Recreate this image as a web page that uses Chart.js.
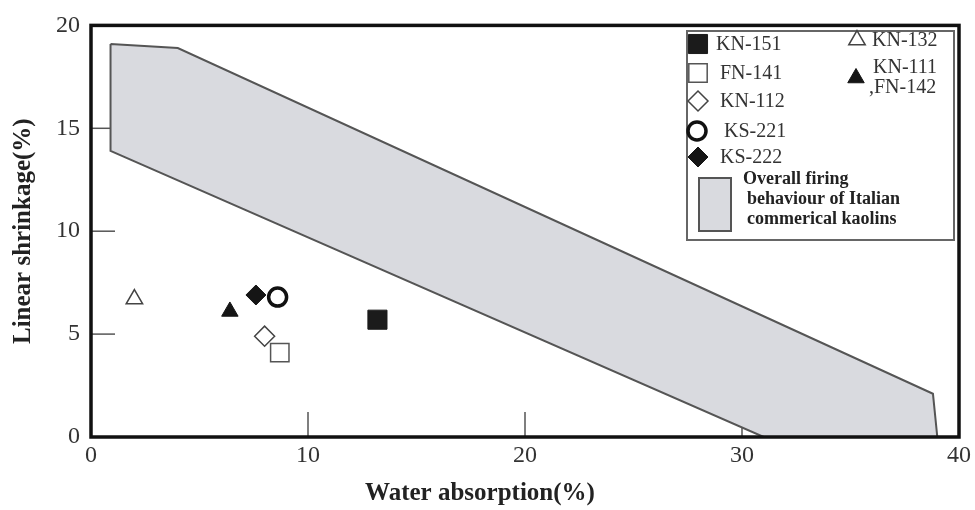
<!DOCTYPE html>
<html>
<head>
<meta charset="utf-8">
<script src="https://cdn.jsdelivr.net/npm/chart.js@4.4.0/dist/chart.umd.min.js"></script>
<style>
  html, body { margin: 0; padding: 0; background: #fff; }
  #wrap { width: 975px; height: 510px; }
</style>
</head>
<body>
<div id="wrap"><canvas id="myChart" width="975" height="510"></canvas></div>
<script>
// sample data
const sampleNames = ['KN-151', 'FN-141', 'KN-112', 'KS-221', 'KS-222', 'KN-132', 'KN-111,FN-142'];
const waterAbsorption = [13.2, 8.7, 8.0, 8.6, 7.6, 2.0, 6.4];
const linearShrinkage = [5.7, 4.1, 4.9, 6.8, 6.9, 6.7, 6.1];

// outline of the Italian kaolin field
const kaolinX = [0.9, 4, 38.8, 39, 31, 0.9, 0.9];
const kaolinY = [19.1, 18.9, 2.1, 0, 0, 13.9, 19.1];
const kaolinLabel = ['Overall firing', 'behaviour of Italian', 'commerical kaolins'];

const xTicks = [0, 10, 20, 30, 40];
const yTicks = [0, 5, 10, 15, 20];

const serif = '"Liberation Serif", "DejaVu Serif", serif';

// marker look per sample
const markers = [
  { style: 'rect', r: 13.5, fill: '#1b1b1b', stroke: '#1b1b1b', w: 1 },
  { style: 'rect', r: 13, fill: '#ffffff', stroke: '#555', w: 1.5 },
  { style: 'rectRot', r: 10, fill: '#ffffff', stroke: '#444', w: 1.5 },
  { style: 'circle', r: 9, fill: '#ffffff', stroke: '#111', w: 3.5 },
  { style: 'rectRot', r: 10, fill: '#151515', stroke: '#151515', w: 1 },
  { style: 'triangle', r: 9.5, fill: '#ffffff', stroke: '#444', w: 1.5 },
  { style: 'triangle', r: 9.5, fill: '#151515', stroke: '#151515', w: 1 }
];

const datasets = [{
  label: 'kaolins',
  data: kaolinX.map((x, i) => ({ x: x, y: kaolinY[i] })),
  showLine: true,
  fill: 'shape',
  backgroundColor: '#d9dadf',
  borderColor: '#555',
  borderWidth: 2,
  pointRadius: 0,
  tension: 0,
  order: 2
}];
sampleNames.forEach((name, i) => {
  const m = markers[i];
  datasets.push({
    label: name,
    data: [{ x: waterAbsorption[i], y: linearShrinkage[i] }],
    pointStyle: m.style,
    pointRadius: m.r,
    pointHoverRadius: m.r,
    backgroundColor: m.fill,
    borderColor: m.stroke,
    borderWidth: m.w,
    order: 1
  });
});

function drawMarker(ctx, m, x, y) {
  ctx.save();
  ctx.fillStyle = m.fill;
  ctx.strokeStyle = m.stroke;
  ctx.lineWidth = m.w;
  Chart.helpers.drawPoint(ctx, { pointStyle: m.style, radius: m.r, borderWidth: m.w }, x, y);
  ctx.restore();
}

const framePlugin = {
  id: 'frame',
  beforeDatasetsDraw(chart) {
    const { ctx, chartArea: a, scales } = chart;
    ctx.save();
    ctx.strokeStyle = '#555';
    ctx.lineWidth = 1.5;
    // inward ticks
    xTicks.slice(1, -1).forEach(v => {
      const px = scales.x.getPixelForValue(v);
      ctx.beginPath(); ctx.moveTo(px, a.bottom); ctx.lineTo(px, a.bottom - 25); ctx.stroke();
    });
    yTicks.slice(1, -1).forEach(v => {
      const py = scales.y.getPixelForValue(v);
      ctx.beginPath(); ctx.moveTo(a.left, py); ctx.lineTo(a.left + 24, py); ctx.stroke();
    });
    ctx.restore();
  },
  afterDatasetsDraw(chart) {
    const { ctx, chartArea: a } = chart;
    ctx.save();
    ctx.strokeStyle = '#111';
    ctx.lineWidth = 3.5;
    ctx.strokeRect(a.left, a.top, a.right - a.left, a.bottom - a.top);

    // axis titles
    ctx.fillStyle = '#222';
    ctx.font = 'bold 25px ' + serif;
    ctx.textAlign = 'center';
    ctx.textBaseline = 'middle';
    ctx.fillText('Water absorption(%)', 480, 494);
    ctx.translate(24, (a.top + a.bottom) / 2);
    ctx.rotate(-Math.PI / 2);
    ctx.fillText('Linear shrinkage(%)', 0, 0);
    ctx.restore();

    // legend box
    ctx.save();
    ctx.strokeStyle = '#666';
    ctx.lineWidth = 2;
    ctx.fillStyle = '#fff';
    ctx.fillRect(687, 31, 267, 209);
    ctx.strokeRect(687, 31, 267, 209);

    const rows = [
      [0, 698, 44, 716], [1, 698, 73, 720], [2, 698, 101, 720],
      [3, 697, 131, 724], [4, 698, 157, 720], [5, 857, 40, 872]
    ];
    ctx.font = '20px ' + serif;
    ctx.textAlign = 'left';
    ctx.textBaseline = 'middle';
    rows.forEach(([i, mx, my, tx]) => {
      drawMarker(ctx, markers[i], mx, my);
      ctx.fillStyle = '#333';
      ctx.fillText(sampleNames[i], tx, my + 1);
    });
    drawMarker(ctx, markers[6], 856, 78);
    ctx.fillStyle = '#333';
    const parts = sampleNames[6].split(',');
    ctx.fillText(parts[0], 873, 68);
    ctx.fillText(',' + parts[1], 869, 88);

    // polygon swatch
    ctx.fillStyle = '#d9dadf';
    ctx.strokeStyle = '#555';
    ctx.lineWidth = 2;
    ctx.fillRect(699, 178, 32, 53);
    ctx.strokeRect(699, 178, 32, 53);
    ctx.fillStyle = '#222';
    ctx.font = 'bold 18px ' + serif;
    ctx.fillText(kaolinLabel[0], 743, 179);
    ctx.fillText(kaolinLabel[1], 747, 199);
    ctx.fillText(kaolinLabel[2], 747, 219);
    ctx.restore();
  }
};

const ctx = document.getElementById('myChart').getContext('2d');
new Chart(ctx, {
  type: 'scatter',
  data: { datasets: datasets },
  plugins: [framePlugin],
  options: {
    responsive: false,
    animation: false,
    layout: { padding: { top: 24, right: 9, left: 0, bottom: 0 } },
    plugins: {
      legend: { display: false },
      tooltip: { enabled: false }
    },
    scales: {
      x: {
        type: 'linear',
        min: 0,
        max: 40,
        afterFit(scale) { scale.height = 73; },
        afterBuildTicks(scale) { scale.ticks = xTicks.map(v => ({ value: v })); },
        grid: { display: false, drawTicks: false },
        border: { display: false },
        ticks: { color: '#333', padding: 4, font: { family: serif, size: 24 }, maxRotation: 0 }
      },
      y: {
        type: 'linear',
        min: 0,
        max: 20,
        afterFit(scale) { scale.width = 91; },
        afterBuildTicks(scale) { scale.ticks = yTicks.map(v => ({ value: v })); },
        grid: { display: false, drawTicks: false },
        border: { display: false },
        ticks: { color: '#333', padding: 11, font: { family: serif, size: 24 } }
      }
    }
  }
});
</script>
</body>
</html>
